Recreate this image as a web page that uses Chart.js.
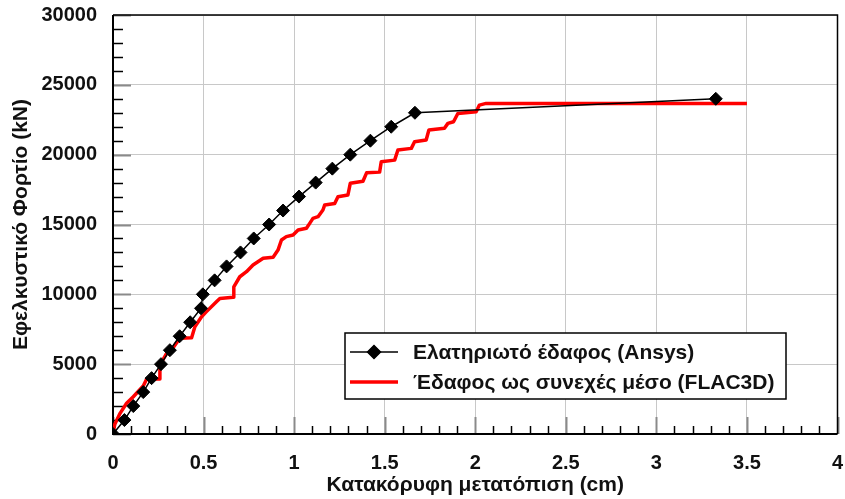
<!DOCTYPE html>
<html lang="el">
<head>
<meta charset="utf-8">
<title>Εφελκυστικό Φορτίο - Κατακόρυφη μετατόπιση</title>
<script src="https://cdn.jsdelivr.net/npm/chart.js@4.4.1/dist/chart.umd.min.js"></script>
<style>
  html, body { margin: 0; padding: 0; background: #fff; }
  #wrap { width: 845px; height: 499px; }
</style>
</head>
<body>
<div id="wrap"><canvas id="chart" width="845" height="499"></canvas></div>
<script>
// === ΔΕΔΟΜΕΝΑ ===
// Ελατηριωτό έδαφος (Ansys): μετατόπιση (cm) και φορτίο (kN)
const ansysX = [0, 0.063, 0.112, 0.167, 0.213, 0.265, 0.314, 0.368, 0.426, 0.486, 0.496, 0.561,
  0.627, 0.704, 0.777, 0.862, 0.939, 1.027, 1.119, 1.211, 1.310, 1.421, 1.536, 1.667, 3.328];
const ansysY = [0, 1000, 2000, 3000, 4000, 5000, 6000, 7000, 8000, 9000, 10000, 11000,
  12000, 13000, 14000, 15000, 16000, 17000, 18000, 19000, 20000, 21000, 22000, 23000, 24000];

// Έδαφος ως συνεχές μέσο (FLAC3D)
const flacX = [0, 0.010, 0.039, 0.075, 0.112, 0.167, 0.186, 0.255, 0.259, 0.296, 0.323, 0.369,
  0.434, 0.452, 0.489, 0.516, 0.571, 0.590, 0.663, 0.667, 0.700, 0.737, 0.773, 0.829,
  0.884, 0.911, 0.930, 0.957, 0.994, 1.022, 1.068, 1.086, 1.104, 1.132, 1.159, 1.169,
  1.224, 1.242, 1.297, 1.310, 1.380, 1.400, 1.472, 1.481, 1.555, 1.573, 1.647, 1.665,
  1.729, 1.744, 1.830, 1.849, 1.880, 1.904, 2.005, 2.023, 2.060, 3.500];
const flacY = [0, 700, 1480, 2200, 2670, 3440, 3940, 3940, 4940, 5780, 6010, 6850,
  6900, 7680, 8400, 8760, 9470, 9710, 9790, 10540, 11260, 11620, 12100, 12580,
  12650, 13170, 13890, 14130, 14250, 14610, 14730, 15080, 15440, 15560, 16040, 16400,
  16510, 16990, 17110, 17950, 18100, 18700, 18750, 19490, 19610, 20330, 20450, 20930,
  21050, 21770, 21890, 22240, 22360, 22950, 23070, 23550, 23670, 23670];

const etiketes = ['Ελατηριωτό έδαφος (Ansys)', 'Έδαφος ως συνεχές μέσο (FLAC3D)'];
const titlosX = 'Κατακόρυφη μετατόπιση (cm)';
const titlosY = 'Εφελκυστικό Φορτίο (kN)';

const xMin = 0, xMax = 4, xBima = 0.5, xMikro = 0.1;
const yMin = 0, yMax = 30000, yBima = 5000, yMikro = 1000;

const gramma = "'Liberation Sans', Arial, sans-serif";

const zeugi = (xs, ys) => xs.map((x, i) => ({ x, y: ys[i] }));

// χωρίς επιπλέον περιθώρια για τις ετικέτες των άκρων
const sterea = (platos, ypsos) => s => {
  if (platos) s.width = platos;
  if (ypsos) s.height = ypsos;
  s.paddingLeft = s.paddingRight = s.paddingTop = s.paddingBottom = 0;
};

// εσωτερικές υποδιαιρέσεις αξόνων και πλαίσιο
const ejes = {
  id: 'ejes',
  beforeDatasetsDraw(chart) {
    const { ctx, chartArea: a, scales: { x, y } } = chart;
    ctx.save();
    ctx.lineCap = 'butt';
    const n = Math.round((xMax - xMin) / xMikro);
    for (let i = 0; i <= n; i++) {
      const v = xMin + i * xMikro;
      const px = Math.round(x.getPixelForValue(v)) + 0.5;
      const megalo = i % Math.round(xBima / xMikro) === 0;
      ctx.strokeStyle = megalo ? '#8a8a8a' : '#000';
      ctx.lineWidth = megalo ? 2 : 1.5;
      ctx.beginPath();
      ctx.moveTo(px, a.bottom);
      ctx.lineTo(px, a.bottom - (megalo ? 17 : 8));
      ctx.stroke();
    }
    const m = Math.round((yMax - yMin) / yMikro);
    for (let i = 0; i <= m; i++) {
      const v = yMin + i * yMikro;
      const py = Math.round(y.getPixelForValue(v)) + 0.5;
      const megalo = i % Math.round(yBima / yMikro) === 0;
      ctx.strokeStyle = megalo ? '#8a8a8a' : '#000';
      ctx.lineWidth = megalo ? 2 : 1.5;
      ctx.beginPath();
      ctx.moveTo(a.left, py);
      ctx.lineTo(a.left + (megalo ? 18 : 10), py);
      ctx.stroke();
    }
    // πλαίσιο
    ctx.strokeStyle = '#000';
    ctx.lineWidth = 1.5;
    ctx.beginPath();
    ctx.moveTo(a.left, a.top);
    ctx.lineTo(a.right, a.top);
    ctx.lineTo(a.right, a.bottom);
    ctx.stroke();
    ctx.lineWidth = 2;
    ctx.beginPath();
    ctx.moveTo(a.left, a.top);
    ctx.lineTo(a.left, a.bottom);
    ctx.lineTo(a.right, a.bottom);
    ctx.stroke();
    ctx.restore();
  }
};

// υπόμνημα μέσα στην περιοχή του διαγράμματος
const ypomnima = {
  id: 'ypomnima',
  afterDatasetsDraw(chart) {
    const { ctx, chartArea: a } = chart;
    const bx = a.left + 232, by = a.top + 318, bw = 441, bh = 66;
    ctx.save();
    ctx.fillStyle = '#fff';
    ctx.fillRect(bx, by, bw, bh);
    ctx.strokeStyle = '#000';
    ctx.lineWidth = 1.5;
    ctx.strokeRect(bx, by, bw, bh);
    ctx.font = `bold 21px ${gramma}`;
    ctx.textBaseline = 'middle';
    ctx.fillStyle = '#000';
    chart.data.datasets.forEach((ds, i) => {
      const ly = by + 19 + i * 30;
      ctx.strokeStyle = ds.borderColor;
      ctx.lineWidth = ds.borderWidth;
      ctx.beginPath();
      ctx.moveTo(bx + 5, ly);
      ctx.lineTo(bx + 53, ly);
      ctx.stroke();
      if (ds.pointRadius > 0) {
        Chart.helpers.drawPoint(ctx, {
          pointStyle: ds.pointStyle, radius: ds.pointRadius, borderWidth: 1
        }, bx + 29, ly);
        ctx.fillStyle = ds.pointBackgroundColor;
        ctx.fill();
      }
      ctx.fillStyle = '#111';
      ctx.fillText(ds.label, bx + 68, ly + 1);
    });
    ctx.restore();
  }
};

new Chart(document.getElementById('chart'), {
  type: 'line',
  data: {
    datasets: [
      {
        label: etiketes[0],
        data: zeugi(ansysX, ansysY),
        borderColor: '#000',
        borderWidth: 1.5,
        pointStyle: 'rectRot',
        pointRadius: 6.5,
        pointBackgroundColor: '#000',
        pointBorderColor: '#000',
        pointBorderWidth: 1,
        tension: 0,
        order: 1
      },
      {
        label: etiketes[1],
        data: zeugi(flacX, flacY),
        borderColor: '#ff0000',
        borderWidth: 3.5,
        pointRadius: 0,
        borderJoinStyle: 'round',
        tension: 0,
        order: 2
      }
    ]
  },
  options: {
    responsive: false,
    animation: false,
    layout: { padding: { left: 0, top: 15, right: 7, bottom: 0 } },
    plugins: {
      legend: { display: false },
      tooltip: { enabled: false }
    },
    scales: {
      x: {
        type: 'linear',
        min: xMin, max: xMax,
        afterFit: sterea(0, 65),
        grid: { color: '#c8c8c8', lineWidth: 1, drawTicks: false },
        border: { display: false },
        ticks: {
          stepSize: xBima,
          padding: 17,
          color: '#111',
          maxRotation: 0,
          callback: v => String(v),
          font: { family: gramma, size: 20, weight: 'bold' }
        },
        title: {
          display: true,
          text: titlosX,
          color: '#111',
          padding: { top: 0, bottom: 1 },
          font: { family: gramma, size: 21, weight: 'bold' }
        }
      },
      y: {
        type: 'linear',
        min: yMin, max: yMax,
        afterFit: sterea(113, 0),
        grid: { color: '#c8c8c8', lineWidth: 1, drawTicks: false },
        border: { display: false },
        ticks: {
          stepSize: yBima,
          padding: 16,
          color: '#111',
          callback: v => String(v),
          font: { family: gramma, size: 20, weight: 'bold' }
        },
        title: {
          display: true,
          text: titlosY,
          color: '#111',
          padding: { top: 9, bottom: 0 },
          font: { family: gramma, size: 21, weight: 'bold' }
        }
      }
    }
  },
  plugins: [ejes, ypomnima]
});
</script>
</body>
</html>
